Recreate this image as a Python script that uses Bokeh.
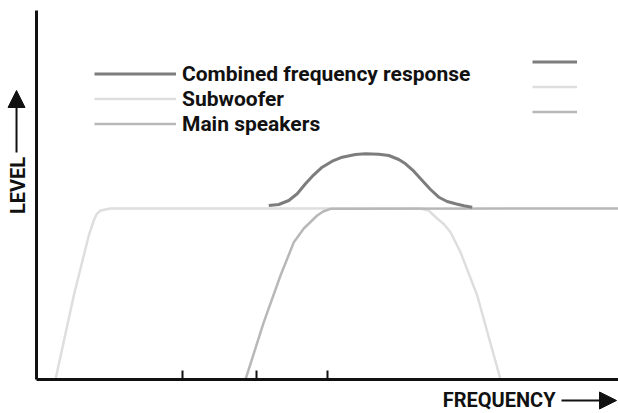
import math
from bokeh.plotting import figure
from bokeh.models import FixedTicker, Label, Arrow, NormalHead, Legend, LegendItem
from bokeh.embed import file_html
from bokeh.resources import INLINE

# ---- data (frequency: 0-100 relative units, level: 0-100 relative units) ----
freq_ticks = [25.44, 38.33, 50.70]

sub_freq = [3.31, 6.50, 9.11, 9.98, 10.45, 11.15, 12.89, 66.90, 68.29, 69.81,
            71.03, 72.13, 73.87, 76.78, 80.84]
sub_level = [0.0, 22.76, 39.02, 43.09, 44.72, 45.80, 46.34, 46.34, 45.80, 43.63,
             42.00, 39.92, 34.50, 22.76, 0.0]

main_freq = [36.41, 39.60, 42.51, 44.83, 46.57, 48.90, 49.94, 51.22, 101.5]
main_level = [0.0, 15.53, 28.18, 37.21, 40.92, 44.44, 45.53, 46.26, 46.34]

comb_freq = [40.47, 42.21, 43.95, 45.42, 46.86, 48.31, 49.77, 51.52, 53.26, 55.57,
             57.32, 59.63, 61.38, 63.12, 64.29, 65.73, 67.20, 68.64, 70.09, 71.55,
             72.99, 74.44, 75.91]
comb_level = [47.15, 47.43, 48.51, 50.33, 53.03, 55.47, 57.53, 59.16, 60.24, 60.98,
              61.17, 61.06, 60.70, 59.62, 58.46, 56.45, 53.93, 51.49, 49.40, 48.24,
              47.62, 47.07, 46.69]

series_labels = ["Combined frequency response", "Subwoofer", "Main speakers"]
x_label = "FREQUENCY"
y_label = "LEVEL"

FONT = "Roboto"

p = figure(width=618, height=413, x_range=(-6.272, 101.394), y_range=(-9.214, 102.710),
           toolbar_location=None, output_backend="svg",
           min_border_left=0, min_border_right=0, min_border_top=0, min_border_bottom=0)
p.outline_line_color = None
p.grid.visible = False
p.background_fill_color = "white"
p.border_fill_color = "white"

# axes drawn at the origin of the frame
p.xaxis.fixed_location = 0
p.xaxis.bounds = (0, 101.394)
p.xaxis.ticker = FixedTicker(ticks=freq_ticks, minor_ticks=[])
p.xaxis.axis_line_width = 3
p.xaxis.axis_line_color = "#111111"
p.xaxis.major_tick_in = 9
p.xaxis.major_tick_out = 0
p.xaxis.major_tick_line_width = 2
p.xaxis.major_tick_line_color = "#111111"
p.xaxis.minor_tick_line_color = None
p.xaxis.major_label_text_color = None

p.yaxis.fixed_location = 0
p.yaxis.bounds = (0, 100)
p.yaxis.ticker = FixedTicker(ticks=[], minor_ticks=[])
p.yaxis.axis_line_width = 3
p.yaxis.axis_line_color = "#111111"
p.yaxis.major_tick_line_color = None
p.yaxis.minor_tick_line_color = None
p.yaxis.major_label_text_color = None

# curves
r_sub = p.line(sub_freq, sub_level, line_color="#dedede", line_width=2.5, line_join="round")
r_main = p.line(main_freq, main_level, line_color="#b8b8b8", line_width=2.5, line_join="round")
r_comb = p.line(comb_freq, comb_level, line_color="#7d7d7d", line_width=3, line_join="round")

renderers = [r_comb, r_sub, r_main]

legend = Legend(items=[LegendItem(label=lab, renderers=[r]) for lab, r in zip(series_labels, renderers)],
                location=(94, 277), orientation="vertical",
                glyph_width=82, glyph_height=25, label_height=25, label_standoff=6,
                spacing=0, padding=0, margin=0,
                border_line_color=None, background_fill_alpha=0,
                label_text_font=FONT, label_text_font_style="bold",
                label_text_font_size="21px", label_text_color="#111111")
p.add_layout(legend)

legend2 = Legend(items=[LegendItem(label=" ", renderers=[r]) for r in renderers],
                 location=(532, 289), orientation="vertical",
                 glyph_width=45, glyph_height=25, label_height=25, label_standoff=0,
                 spacing=0, padding=0, margin=0,
                 border_line_color=None, background_fill_alpha=0,
                 label_text_font_size="10px")
p.add_layout(legend2)

# axis titles with arrows
p.add_layout(Label(x=-3.22, y=52.57, text=y_label, angle=math.pi / 2,
                   text_align="center", text_baseline="middle",
                   text_font=FONT, text_font_style="bold", text_font_size="20px",
                   text_color="#111111"))
p.add_layout(Arrow(end=NormalHead(size=17, fill_color="#111111", line_color="#111111", line_width=1),
                   x_start=-3.48, y_start=61.52, x_end=-3.48, y_end=78.32,
                   line_width=2, line_color="#111111"))

p.add_layout(Label(x=90.42, y=-5.69, text=x_label,
                   text_align="right", text_baseline="middle",
                   text_font=FONT, text_font_style="bold", text_font_size="20px",
                   text_color="#111111"))
p.add_layout(Arrow(end=NormalHead(size=17, fill_color="#111111", line_color="#111111", line_width=1),
                   x_start=91.46, y_start=-5.69, x_end=101.05, y_end=-5.69,
                   line_width=2, line_color="#111111"))

open("out.html", "w").write(file_html(p, INLINE))
